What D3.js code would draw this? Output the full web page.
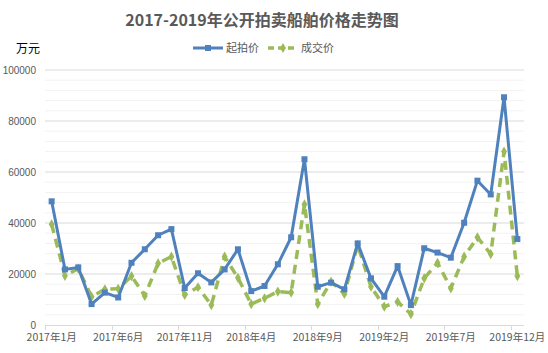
<!DOCTYPE html>
<html><head><meta charset="utf-8">
<script src="https://cdn.jsdelivr.net/npm/d3@7"></script>
<style>body{margin:0;background:#fff;} svg{display:block;font-family:"Noto Sans CJK SC","DejaVu Sans",sans-serif;}</style>
</head><body>
<svg id="c" width="548" height="353"></svg>
<script>
const months = [];
for (const y of [2017, 2018, 2019]) for (let m = 1; m <= 12; m++) months.push(y + "年" + m + "月");
const startPrice = [48500,21800,22600,8200,12700,10800,24400,29700,35200,37600,14500,20300,
  16700,21800,29700,13300,15300,23800,34400,65000,15000,16600,14000,32000,
  18300,11100,23100,7800,30100,28400,26400,40100,56600,51200,89300,33700];
const dealPrice = [39500,19300,22100,11100,14000,14200,19200,11400,24200,26800,11800,14800,
  7800,26800,18500,8200,10500,13100,12700,47300,8200,17000,12200,31400,
  15000,7200,9100,4300,18300,24400,14400,26800,34400,27800,68000,19200];
const yTicks = [0,20000,40000,60000,80000,100000];
const seriesNames = ["起拍价","成交价"];

const svg = d3.select("#c");
const L = 45, R = 524, T = 70, B = 325;
const x = d3.scaleBand().domain(months).range([L, R]).padding(0);
const y = d3.scaleLinear().domain([0, 100000]).range([B, T]);

// minor gridlines
svg.append("g").selectAll("line").data(d3.range(4000, 100000, 4000).filter(v => v % 20000 !== 0))
  .join("line").attr("x1", L).attr("x2", R).attr("y1", d => y(d)).attr("y2", d => y(d))
  .attr("stroke", "#f2f2f2").attr("stroke-width", 1);
// major gridlines
svg.append("g").selectAll("line").data(yTicks.filter(v => v > 0))
  .join("line").attr("x1", L).attr("x2", R).attr("y1", d => y(d)).attr("y2", d => y(d))
  .attr("stroke", "#d9d9d9").attr("stroke-width", 1);

// y axis labels
svg.append("g").selectAll("text").data(yTicks).join("text")
  .attr("x", 36).attr("y", d => y(d)).attr("dy", "0.35em").attr("text-anchor", "end")
  .attr("font-size", 10).attr("fill", "#595959").attr("font-family", "Liberation Sans, Arial, sans-serif")
  .text(d => d);

// x axis line and ticks
svg.append("line").attr("x1", L).attr("x2", R).attr("y1", B + 0.5).attr("y2", B + 0.5).attr("stroke", "#d9d9d9");
const tickIdx = d3.range(0, months.length, 5);
svg.append("g").selectAll("line").data(tickIdx).join("line")
  .attr("x1", i => Math.round(x(months[i])) + 0.5).attr("x2", i => Math.round(x(months[i])) + 0.5)
  .attr("y1", B).attr("y2", B + 5).attr("stroke", "#d9d9d9");
svg.append("g").selectAll("text").data(tickIdx).join("text")
  .attr("x", i => x(months[i]) + x.bandwidth() / 2).attr("y", 341)
  .attr("text-anchor", "middle").attr("font-size", 10.5).attr("fill", "#595959")
  .text(i => months[i]);

const cx = (d, i) => x(months[i]) + x.bandwidth() / 2;
const line = d3.line().x(cx).y(d => y(d));

// deal price (green dashed)
svg.append("path").datum(dealPrice).attr("d", line).attr("fill", "none")
  .attr("stroke", "#9bbb59").attr("stroke-width", 3.5).attr("stroke-dasharray", "9,6")
  .attr("stroke-linejoin", "round");
svg.append("g").selectAll("path").data(dealPrice).join("path")
  .attr("transform", (d, i) => `translate(${cx(d, i)},${y(d)})`)
  .attr("d", d3.symbol(d3.symbolDiamond, 30)).attr("fill", "#9bbb59");

// start price (blue)
svg.append("path").datum(startPrice).attr("d", line).attr("fill", "none")
  .attr("stroke", "#4f81bd").attr("stroke-width", 3).attr("stroke-linejoin", "round");
svg.append("g").selectAll("rect").data(startPrice).join("rect")
  .attr("x", (d, i) => cx(d, i) - 3).attr("y", d => y(d) - 3).attr("width", 6).attr("height", 6)
  .attr("fill", "#4f81bd");

// title
svg.append("text").attr("x", 262).attr("y", 26).attr("text-anchor", "middle")
  .attr("font-size", 16).attr("font-weight", "bold").attr("fill", "#595959")
  .text("2017-2019年公开拍卖船舶价格走势图");
// unit
svg.append("text").attr("x", 16).attr("y", 53).attr("font-size", 12).attr("fill", "#000").text("万元");

// legend
const lg = svg.append("g");
lg.append("line").attr("x1", 193).attr("x2", 223).attr("y1", 48).attr("y2", 48).attr("stroke", "#4f81bd").attr("stroke-width", 3);
lg.append("rect").attr("x", 205).attr("y", 45).attr("width", 6).attr("height", 6).attr("fill", "#4f81bd");
lg.append("text").attr("x", 226).attr("y", 52).attr("font-size", 11).attr("fill", "#595959").text(seriesNames[0]);
lg.append("line").attr("x1", 268).attr("x2", 298).attr("y1", 48).attr("y2", 48).attr("stroke", "#9bbb59").attr("stroke-width", 3.5).attr("stroke-dasharray", "6,4");
lg.append("path").attr("transform", "translate(283,48)").attr("d", d3.symbol(d3.symbolDiamond, 30)).attr("fill", "#9bbb59");
lg.append("text").attr("x", 301).attr("y", 52).attr("font-size", 11).attr("fill", "#595959").text(seriesNames[1]);
</script>
</body></html>
